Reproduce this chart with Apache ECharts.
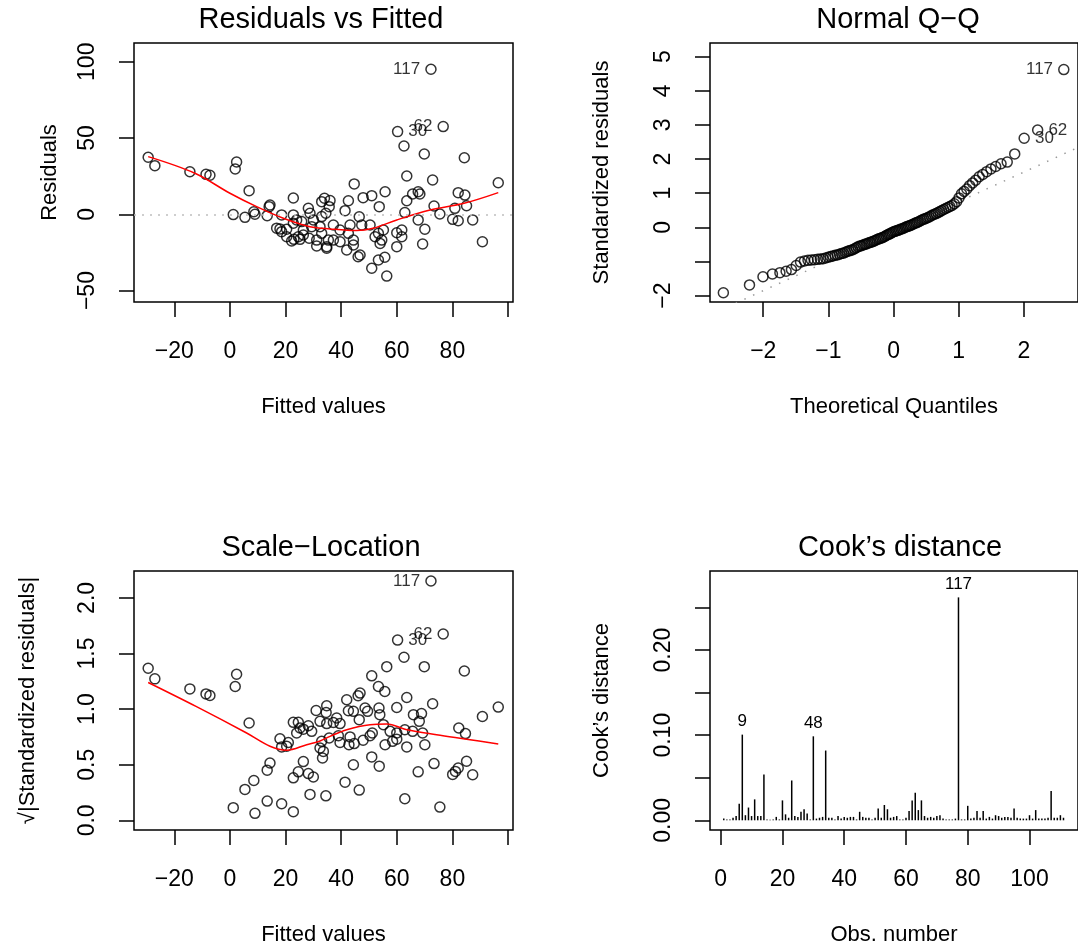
<!DOCTYPE html>
<html><head><meta charset="utf-8">
<script src="https://cdn.jsdelivr.net/npm/echarts@6/dist/echarts.min.js"></script>
<style>html,body{margin:0;padding:0;background:#fff}#c{width:1078px;height:947px}</style>
</head><body><div id="c"></div>
<script>
// ---------- Residuals vs Fitted ----------
const rvfFitted = [-29.4,-27.0,-14.4,-8.6,-7.2,2.4,1.9,6.9,1.2,5.4,8.6,9.0,13.4,14.1,14.4,18.6,22.8,18.0,18.6,20.4,22.8,22.8,23.0,24.6,24.0,25.8,26.4,28.2,28.8,30.0,28.5,31.2,32.4,33.0,34.0,34.5,34.8,33.0,35.4,16.8,72.3,76.7,60.3,62.6,69.9,84.3,96.5,63.6,72.9,44.7,55.8,51.0,47.9,42.6,41.4,53.7,46.5,63.6,65.7,67.7,68.3,62.9,67.7,70.1,69.3,73.4,75.5,80.9,82.1,84.5,85.1,80.1,82.1,87.3,90.8,60.0,61.8,60.0,56.4,51.0,53.4,55.7,46.8,46.1,50.4,52.2,54.6,54.0,55.2,43.2,42.6,42.0,44.4,39.6,37.2,47.4,22.2,25.2,31.2,34.8,33.0,35.7,36.0,26.4,20.4,29.4,37.2,39.6,61.8,53.4,44.4];
const rvfResid = [37.4,31.9,27.9,26.2,25.6,34.3,29.7,15.5,-0.2,-2.0,1.7,0,-0.9,5.0,6.1,-0.4,10.7,-9.6,-11.4,-9.8,-0.4,-5.9,-16.4,-14.7,-3.7,-4.8,-10.3,3.9,0.7,-3.7,-15.7,-20.8,-8.1,8.3,10.5,0.7,-21.2,-12.5,-16.9,-9.1,95.1,57.5,54.2,44.8,39.5,37.1,20.7,25.1,22.5,19.9,14.8,12.2,10.9,8.9,2.4,5.0,-1.6,8.9,13.3,14.8,13.3,1.1,-3.7,-9.8,-19.5,5.4,0.2,3.9,14.2,12.6,5.6,-3.3,-4.2,-3.7,-18.0,-12.1,-14.7,-21.2,-40.5,-35.4,-30.0,-28.2,-26.7,-27.8,-7.0,-14.7,-16.9,-19.1,-10.3,-7.0,-12.5,-23.4,-20.1,-10.3,-16.9,-7.0,-17.5,-16.4,-16.9,-22.3,-1.5,5.0,9.0,-13.6,-14.7,-8.1,-7.0,-18.0,-10.3,-12.5,-16.9];
const rvfIdIndex = [40, 41, 42];
const rvfIdText = ['117', '62', '30'];
const rvfIdPos = ['left', 'left', 'right'];
const rvfSmoothX = [-29.4,-12.6,0,9.6,19.2,28.8,36,45.5,51.5,60,72,84.2,96.5];
const rvfSmoothY = [37.8,26.9,13.8,5.0,-2.6,-8.1,-9.6,-10.7,-9.2,-3.7,2.8,7.2,14.2];
const rvfXTicks = [-20,0,20,40,60,80,100];
const rvfXLabels = [-20,0,20,40,60,80];
const rvfYTicks = [-50,0,50,100];

// ---------- Normal Q-Q ----------
const qqTheo = [-2.612,-2.211,-2.004,-1.859,-1.744,-1.649,-1.567,-1.494,-1.428,-1.368,-1.313,-1.261,-1.213,-1.167,-1.124,-1.082,-1.042,-1.004,-0.967,-0.932,-0.897,-0.864,-0.832,-0.801,-0.770,-0.740,-0.711,-0.682,-0.653,-0.626,-0.598,-0.572,-0.545,-0.519,-0.494,-0.468,-0.443,-0.418,-0.394,-0.369,-0.345,-0.321,-0.298,-0.274,-0.251,-0.228,-0.205,-0.182,-0.159,-0.136,-0.113,-0.090,-0.068,-0.045,-0.023,0,0.023,0.045,0.068,0.090,0.113,0.136,0.159,0.182,0.205,0.228,0.251,0.274,0.298,0.321,0.345,0.369,0.394,0.418,0.443,0.468,0.494,0.519,0.545,0.572,0.598,0.626,0.653,0.682,0.711,0.740,0.770,0.801,0.832,0.864,0.897,0.932,0.967,1.004,1.042,1.082,1.124,1.167,1.213,1.261,1.313,1.368,1.428,1.494,1.567,1.649,1.744,1.859,2.004,2.211,2.612];
const qqStd = [-1.92,-1.69,-1.45,-1.37,-1.33,-1.29,-1.24,-1.12,-1.02,-0.99,-0.97,-0.96,-0.95,-0.94,-0.93,-0.92,-0.90,-0.88,-0.86,-0.84,-0.82,-0.81,-0.79,-0.77,-0.76,-0.73,-0.71,-0.69,-0.67,-0.66,-0.63,-0.60,-0.57,-0.55,-0.54,-0.52,-0.50,-0.49,-0.47,-0.45,-0.44,-0.42,-0.40,-0.38,-0.36,-0.34,-0.33,-0.31,-0.29,-0.27,-0.24,-0.22,-0.20,-0.18,-0.15,-0.13,-0.12,-0.10,-0.09,-0.07,-0.05,-0.04,-0.02,0.00,0.02,0.03,0.05,0.07,0.09,0.11,0.13,0.15,0.17,0.20,0.22,0.24,0.26,0.28,0.30,0.33,0.36,0.38,0.40,0.43,0.46,0.49,0.52,0.55,0.58,0.61,0.64,0.69,0.75,0.86,0.98,1.05,1.12,1.22,1.30,1.38,1.48,1.55,1.63,1.71,1.78,1.86,1.91,2.15,2.61,2.85,4.62];
const qqIdIndex = [110, 109, 108];
const qqIdText = ['117', '62', '30'];
const qqIdPos = ['left', 'right', 'right'];
const qqLineX = [-2.82, 2.83];
const qqLineY = [-2.57, 2.34];
const qqXTicks = [-2,-1,0,1,2];
const qqYTicks = [-2,-1,0,1,2,3,4,5];
const qqYLabels = [-2,0,1,2,3,4,5];

// ---------- Scale-Location ----------
const slFitted = [-29.4,-27.0,-14.4,-8.6,-7.2,2.4,1.9,6.9,1.2,5.4,8.6,9.0,13.4,13.4,14.4,18.6,22.8,18.0,18.6,20.4,22.8,24.6,22.8,24.6,26.4,24.0,25.2,28.2,28.8,30.0,28.2,31.0,32.4,33.0,32.4,34.5,34.8,72.3,76.7,60.3,62.6,69.9,84.3,96.5,90.8,56.4,51.0,53.4,55.7,46.8,46.1,63.6,72.9,60.0,42.0,42.6,44.4,48.6,53.6,53.9,46.5,68.9,68.1,69.3,65.7,62.9,60.0,60.0,63.6,70.1,55.8,55.2,51.2,50.4,47.9,43.2,42.8,39.6,37.2,51.0,53.7,41.4,46.5,62.9,75.5,67.7,73.4,82.3,84.7,85.1,82.1,81.1,80.1,87.3,34.6,34.8,33.6,39.6,35.7,33.3,26.4,29.4,21.0,38.4,49.5,44.7,57.6,66.0,44.4,39.0,58.5];
const slSqrt = [1.368,1.272,1.182,1.137,1.122,1.314,1.203,0.875,0.114,0.278,0.358,0.063,0.173,0.451,0.516,0.149,0.078,0.734,0.66,0.666,0.881,0.881,0.382,0.436,0.528,0.785,0.83,0.85,0.233,0.39,0.42,0.988,0.89,0.71,0.65,0.22,1.03,2.152,1.675,1.621,1.466,1.382,1.343,1.018,0.934,1.382,1.299,1.203,1.158,1.144,1.12,1.104,1.048,1.015,1.084,0.985,0.98,1.01,1.01,0.95,0.905,0.96,0.89,0.785,0.80,0.815,0.785,0.73,0.66,0.68,0.68,0.86,0.785,0.76,0.72,0.75,0.68,0.70,0.88,0.57,0.487,0.343,0.272,0.194,0.119,0.436,0.51,0.83,0.78,0.531,0.47,0.44,0.413,0.41,0.97,0.87,0.62,0.87,0.74,0.56,0.82,0.80,0.70,0.92,0.98,0.69,0.80,0.95,0.50,0.76,0.71];
const slIdIndex = [37, 38, 39];
const slIdText = ['117', '62', '30'];
const slIdPos = ['left', 'left', 'right'];
const slSmoothX = [-29.4,-12.2,6.0,14.4,20.4,27.6,32.4,36,42,50.4,56.4,63.6,74.3,85.1,96.5];
const slSmoothY = [1.239,1.024,0.785,0.666,0.63,0.68,0.713,0.755,0.815,0.86,0.866,0.815,0.77,0.73,0.687];
const slYTicks = [0,0.5,1,1.5,2];

// ---------- Cook's distance ----------
const cookD = [0.002,0.001,0.001,0.003,0.005,0.0195,0.1007,0.006,0.015,0.005,
0.0246,0.005,0.005,0.0539,0.001,0.0005,0.001,0.004,0.001,0.0234,
0.007,0.003,0.0468,0.005,0.004,0.010,0.013,0.008,0.001,0.0987,
0.002,0.003,0.004,0.082,0.003,0.003,0.001,0.005,0.002,0.004,
0.003,0.004,0.004,0.001,0.010,0.004,0.003,0.003,0.001,0.003,
0.014,0.003,0.018,0.013,0.003,0.004,0.005,0.001,0.001,0.003,
0.011,0.0234,0.0324,0.012,0.0234,0.005,0.003,0.004,0.003,0.005,
0.006,0.002,0.001,0.001,0.001,0.002,0.262,0.001,0.001,0.017,
0.002,0.003,0.011,0.003,0.011,0.002,0.004,0.002,0.006,0.005,
0.003,0.004,0.004,0.003,0.014,0.003,0.002,0.002,0.002,0.006,
0.002,0.012,0.002,0.002,0.002,0.003,0.0343,0.003,0.003,0.006,
0.003];
const cookIdObs = [7, 30, 77];
const cookIdText = ['9', '48', '117'];
const cookXTicks = [0,20,40,60,80,100];
const cookYTicks = [0,0.05,0.10,0.15,0.20,0.25];
const cookYLabels = [0,0.10,0.20];

// ---------- chart ----------
const FONT = 'Liberation Sans, Arial, Helvetica, sans-serif';
const TICK_FS = 23, NAME_FS = 22, TITLE_FS = 29, ID_FS = 17;
const minus = v => String(v).replace('-', '\u2212');

function xAxisDef(grid, min, max, ticks, labels, fmt, name) {
  return {
    type: 'value', gridIndex: grid, min: min, max: max,
    axisLine: {show: false, onZero: false}, splitLine: {show: false},
    axisTick: {show: true, customValues: ticks, length: 15, lineStyle: {color: '#000', width: 1.5}},
    axisLabel: {customValues: labels, formatter: fmt, margin: 38, color: '#000', fontSize: TICK_FS, fontFamily: FONT},
    name: name, nameLocation: 'middle', nameGap: 94,
    nameTextStyle: {color: '#000', fontSize: NAME_FS, fontFamily: FONT}
  };
}
function yAxisDef(grid, min, max, ticks, labels, fmt, name, nameGap) {
  return {
    type: 'value', gridIndex: grid, min: min, max: max,
    axisLine: {show: false, onZero: false}, splitLine: {show: false},
    axisTick: {show: true, customValues: ticks, length: 15, lineStyle: {color: '#000', width: 1.5}},
    axisLabel: {customValues: labels, formatter: fmt, rotate: 90, margin: 35, color: '#000', fontSize: TICK_FS, fontFamily: FONT},
    name: name, nameLocation: 'middle', nameGap: nameGap, nameRotate: 90,
    nameTextStyle: {color: '#000', fontSize: NAME_FS, fontFamily: FONT}
  };
}
function points(xs, ys, idIdx, idTxt, idPos) {
  return xs.map((x, i) => {
    const d = {value: [x, ys[i]]};
    const k = idIdx.indexOf(i);
    if (k >= 0) d.label = {show: true, formatter: idTxt[k], position: idPos[k], distance: 5,
      color: '#000', fontSize: ID_FS, fontFamily: FONT};
    return d;
  });
}
function scatter(xi, yi, data) {
  return {type: 'scatter', xAxisIndex: xi, yAxisIndex: yi, data: data, symbol: 'circle', symbolSize: 10,
    itemStyle: {color: 'rgba(0,0,0,0)', borderColor: '#000', borderWidth: 1.5}, silent: true, z: 3};
}
function smooth(xi, yi, xs, ys) {
  return {type: 'line', xAxisIndex: xi, yAxisIndex: yi, data: xs.map((x, i) => [x, ys[i]]),
    symbol: 'none', smooth: 0.35, lineStyle: {color: '#ff0000', width: 1.5}, silent: true, z: 4};
}

const gridBox = {show: true, borderColor: '#000', borderWidth: 1.5, backgroundColor: 'transparent'};
const titleStyle = {color: '#000', fontSize: TITLE_FS, fontWeight: 'normal', fontFamily: FONT};

const option = {
  animation: false,
  backgroundColor: '#fff',
  title: [
    {text: 'Residuals vs Fitted', left: 321, top: 5, textAlign: 'center', padding: 0, textStyle: titleStyle},
    {text: 'Normal Q\u2212Q', left: 898, top: 5, textAlign: 'center', padding: 0, textStyle: titleStyle},
    {text: 'Scale\u2212Location', left: 321, top: 533, textAlign: 'center', padding: 0, textStyle: titleStyle},
    {text: 'Cook\u2019s distance', left: 900, top: 533, textAlign: 'center', padding: 0, textStyle: titleStyle}
  ],
  grid: [
    Object.assign({left: 134, top: 43, width: 379, height: 259}, gridBox),
    Object.assign({left: 710, top: 43, width: 379, height: 259}, gridBox),
    Object.assign({left: 134, top: 571, width: 379, height: 260}, gridBox),
    Object.assign({left: 710, top: 571, width: 379, height: 260}, gridBox)
  ],
  xAxis: [
    xAxisDef(0, -34.5, 101.8, rvfXTicks, rvfXLabels, minus, 'Fitted values'),
    xAxisDef(1, -2.817, 2.83, qqXTicks, qqXTicks, minus, 'Theoretical Quantiles'),
    xAxisDef(2, -34.5, 101.8, rvfXTicks, rvfXLabels, minus, 'Fitted values'),
    xAxisDef(3, -3.46, 115.7, cookXTicks, cookXTicks, minus, 'Obs. number')
  ],
  yAxis: [
    yAxisDef(0, -57.5, 112.3, rvfYTicks, rvfYTicks, minus, 'Residuals', 73),
    yAxisDef(1, -2.19, 5.40, qqYTicks, qqYLabels, minus, 'Standardized residuals', 97),
    yAxisDef(2, -0.087, 2.242, slYTicks, slYTicks, v => v.toFixed(1), '\u221A|Standardized residuals|', 95),
    yAxisDef(3, -0.0114, 0.293, cookYTicks, cookYLabels, v => v.toFixed(2), 'Cook\u2019s distance', 97)
  ],
  series: [
    scatter(0, 0, points(rvfFitted, rvfResid, rvfIdIndex, rvfIdText, rvfIdPos)),
    Object.assign(smooth(0, 0, rvfSmoothX, rvfSmoothY), {
      markLine: {silent: true, symbol: 'none', label: {show: false},
        lineStyle: {color: '#bebebe', type: [2, 6], width: 1.5}, data: [{yAxis: 0}]}
    }),
    scatter(1, 1, points(qqTheo, qqStd, qqIdIndex, qqIdText, qqIdPos)),
    {type: 'line', xAxisIndex: 1, yAxisIndex: 1, data: qqLineX.map((x, i) => [x, qqLineY[i]]),
      symbol: 'none', clip: true, lineStyle: {color: '#9a9a9a', type: [1.5, 8], width: 1.5}, silent: true, z: 2},
    scatter(2, 2, points(slFitted, slSqrt, slIdIndex, slIdText, slIdPos)),
    smooth(2, 2, slSmoothX, slSmoothY),
    {type: 'bar', xAxisIndex: 3, yAxisIndex: 3, barWidth: 1.5, silent: true,
      itemStyle: {color: '#000'},
      data: cookD.map((v, i) => {
        const obs = i + 1;
        const d = {value: [obs, v]};
        const k = cookIdObs.indexOf(obs);
        if (k >= 0) d.label = {show: true, formatter: cookIdText[k], position: 'top', distance: 5,
          color: '#000', fontSize: ID_FS, fontFamily: FONT};
        return d;
      })}
  ]
};
const chart = echarts.init(document.getElementById('c'), null, {renderer: 'canvas'});
chart.setOption(option);
</script></body></html>
